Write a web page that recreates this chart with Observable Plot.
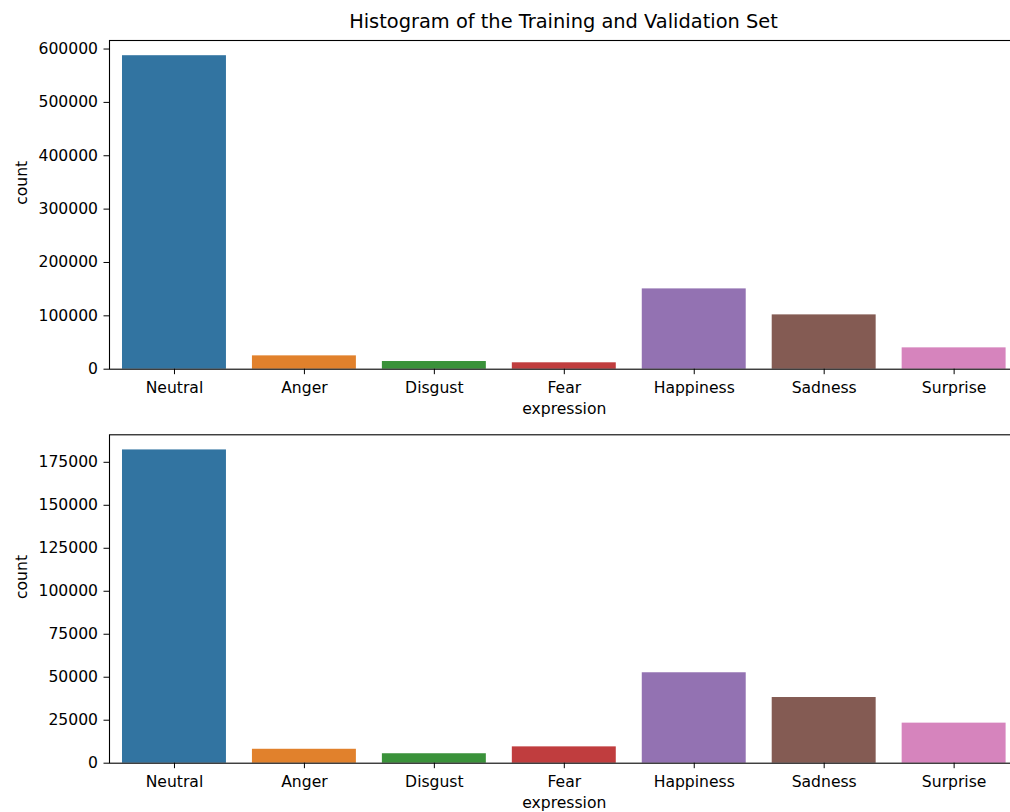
<!DOCTYPE html>
<html>
<head>
<meta charset="utf-8">
<script src="https://cdn.jsdelivr.net/npm/d3@7"></script>
<script src="https://cdn.jsdelivr.net/npm/@observablehq/plot@0.6"></script>
<style>
  html, body { margin: 0; padding: 0; background: white; overflow: hidden; }
  #wrap { position: relative; width: 1010px; height: 812px; overflow: hidden; font-family: "DejaVu Sans", sans-serif; }
  #title { position: absolute; z-index: 5; left: 0; width: 1127px; top: 11px; line-height: 22px; font-size: 19.4px; text-align: center; color: #000; white-space: nowrap; }
  .panel { position: absolute; left: 0; z-index: 1; }
</style>
</head>
<body>
<div id="wrap">
  <div id="p1" class="panel" style="top:0px"></div>
  <div id="p2" class="panel" style="top:420px"></div>
  <div id="title">Histogram of the Training and Validation Set</div>
</div>
<script>
const categories = ["Neutral", "Anger", "Disgust", "Fear", "Happiness", "Sadness", "Surprise"];
const trainCounts = [587500, 25000, 14400, 12000, 150500, 101800, 40000];
const valCounts = [182200, 8100, 5500, 9500, 52600, 38200, 23300];
const barColors = ["#3274a1", "#e1812c", "#3a923a", "#c03d3e", "#9372b2", "#845b53", "#d684bd"];
const trainTicks = [0, 100000, 200000, 300000, 400000, 500000, 600000];
const valTicks = [0, 25000, 50000, 75000, 100000, 125000, 150000, 175000];
const xLabel = "expression";
const yLabel = "count";

function panel(values, ticks, yMax, opts) {
  const data = categories.map((c, i) => ({expression: c, count: values[i]}));
  return Plot.plot({
    width: 1019,
    height: opts.height,
    marginLeft: 109,
    marginRight: 0.4,
    marginTop: opts.marginTop,
    marginBottom: opts.marginBottom,
    style: {fontFamily: "DejaVu Sans, sans-serif", fontSize: "15.6px", color: "#000", background: "white", maxWidth: "none", overflow: "hidden"},
    x: {domain: categories, paddingInner: 0.2, paddingOuter: 0.1, round: false, align: 0.5, label: null},
    y: {domain: [0, yMax], label: null},
    color: {domain: categories, range: barColors},
    marks: [
      Plot.barY(data, {x: "expression", y: "count", fill: "expression"}),
      Plot.axisX({tickSize: 5.5, tickPadding: 7, label: null}),
      Plot.axisY({ticks: ticks, tickFormat: d3.format("d"), tickSize: 5.5, tickPadding: 6, label: null}),
      Plot.frame({stroke: "#000", strokeWidth: 1.1}),
      Plot.text([xLabel], {frameAnchor: "bottom", dy: 39.5, text: d => d, lineAnchor: "middle"}),
      Plot.text([yLabel], {frameAnchor: "left", dx: -88, text: d => d, rotate: -90, lineAnchor: "middle"})
    ]
  });
}

document.getElementById("p1").appendChild(panel(trainCounts, trainTicks, 616000, {height: 420, marginTop: 40, marginBottom: 51.3}));
document.getElementById("p2").appendChild(panel(valCounts, valTicks, 191000, {height: 392, marginTop: 14.3, marginBottom: 49.3}));
</script>
</body>
</html>
